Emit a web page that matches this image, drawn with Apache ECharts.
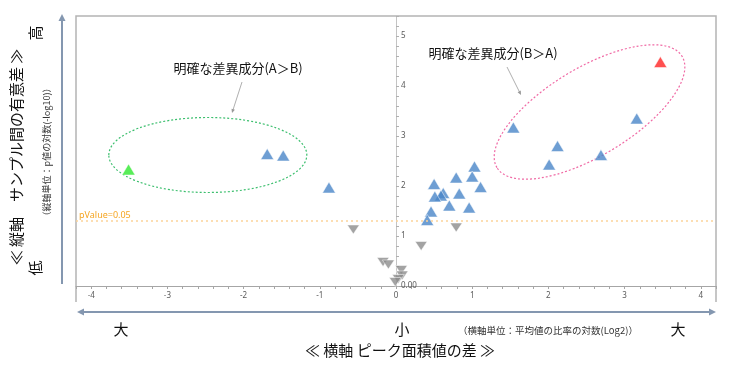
<!DOCTYPE html>
<html><head><meta charset="utf-8">
<script src="https://cdn.jsdelivr.net/npm/echarts@6/dist/echarts.min.js"></script>
<style>html,body{margin:0;padding:0;background:#fff}#c{width:733px;height:373px}</style>
</head><body><div id="c"></div>
<script>
// ---- data (x: log2 ratio, y: -log10 p) ----
const blueUp = [[-1.69,2.64],[-1.48,2.61],[-0.88,1.97],[0.50,2.04],[0.79,2.17],[1.03,2.39],[1.00,2.19],[1.11,1.98],[0.83,1.85],[0.62,1.86],[0.59,1.81],[0.51,1.79],[0.70,1.61],[0.96,1.57],[0.46,1.49],[0.41,1.32],[1.54,3.17],[2.12,2.80],[2.01,2.43],[2.69,2.62],[3.16,3.35]];
const redUp = [[3.47,4.48]];
const greenUp = [[-3.51,2.33]];
const grayDown = [[-0.56,1.13],[0.79,1.17],[0.33,0.80],[-0.17,0.48],[-0.10,0.43],[0.07,0.32],[0.08,0.21],[0.03,0.14],[-0.01,0.08]];
const pThreshold = 1.301;            // -log10(0.05)
const pLabel = 'pValue=0.05';
const xRange = [-4.2, 4.2];
const yRange = [0, 5.4];
const tickStep = 0.2;
const zeroLabel = '0.00';
const yTitle = '≪ 縦軸　サンプル間の有意差 ≫';
const ySub = '（縦軸単位：p値の対数(-log10)）';
const xTitle = '≪ 横軸 ピーク面積値の差 ≫';
const xSub = '（横軸単位：平均値の比率の対数(Log2)）';
const noteAB = '明確な差異成分(A＞B)';
const noteBA = '明確な差異成分(B＞A)';
// annotation ellipses in data units
const ellAB = {cx:-2.47, cy:2.62};
const ellBA = {cx:2.54, cy:3.48};

const chart = echarts.init(document.getElementById('c'));
const isInt = v => Math.abs(v - Math.round(v)) < 1e-6;
const tickFont = 'Noto Sans';
const cjk = '"Noto Sans CJK JP"';
const axisGray = '#a6a6a6';
const gridLeft = 76, gridRight = 17, gridW = 733 - gridLeft - gridRight;
// y axis drawn at x = 0 of the x scale
const yAxisOffset = -gridW * (0 - xRange[0]) / (xRange[1] - xRange[0]);

const upSym = 'triangle';
chart.setOption({
  animation:false,
  grid:{left:gridLeft, right:gridRight, top:16, bottom:87, containLabel:false},
  xAxis:{type:'value', min:xRange[0], max:xRange[1], interval:tickStep,
    axisLine:{onZero:false, lineStyle:{color:axisGray, width:1}},
    axisTick:{show:true, length:3, lineStyle:{color:axisGray}},
    splitLine:{show:false},
    axisLabel:{interval:0, fontSize:8, color:'#595959', fontFamily:tickFont, margin:6,
      formatter:v => isInt(v) && Math.abs(v) < 4.1 ? String(Math.round(v)) : ''}},
  yAxis:{type:'value', position:'left', offset:yAxisOffset, min:yRange[0], max:yRange[1], interval:tickStep,
    axisLine:{show:true, onZero:false, lineStyle:{color:'#c4c4c4', width:1}},
    axisTick:{show:true, inside:true, length:3, lineStyle:{color:'#b0b0b0'}},
    splitLine:{show:false},
    axisLabel:{inside:true, interval:0, fontSize:8, color:'#595959', fontFamily:tickFont, margin:5,
      formatter:v => Math.abs(v) < 1e-6 ? zeroLabel : (isInt(v) && v < 5.1 ? String(Math.round(v)) : '')}},
  series:[
    {type:'scatter', name:'down', data:grayDown, symbol:'triangle', symbolRotate:180, symbolSize:[12,9],
      itemStyle:{color:'#8c8c8c', borderColor:'#fff', borderWidth:0.6},
      markLine:{symbol:'none', silent:true, animation:false,
        lineStyle:{type:[2,3], color:'#fbd49b', width:1.5},
        label:{show:true, position:'insideStartTop', formatter:pLabel, color:'#f5a623', fontSize:9, fontFamily:tickFont, distance:[3,1]},
        data:[{yAxis:pThreshold}]}},
    {type:'scatter', name:'blue', data:blueUp, symbol:upSym, symbolSize:[13,11],
      itemStyle:{color:'#4a86c8', borderColor:'#fff', borderWidth:0.6}},
    {type:'scatter', name:'red', data:redUp, symbol:upSym, symbolSize:[13,11],
      itemStyle:{color:'#ff2424', borderColor:'#fff', borderWidth:0.6}},
    {type:'scatter', name:'green', data:greenUp, symbol:upSym, symbolSize:[13,11],
      itemStyle:{color:'#2ee82e', borderColor:'#fff', borderWidth:0.6}}
  ]
});

const pAB = chart.convertToPixel({gridIndex:0}, [ellAB.cx, ellAB.cy]);
const pBA = chart.convertToPixel({gridIndex:0}, [ellBA.cx, ellBA.cy]);
const slate = '#8497b0';
const noteGray = '#9a9a9a';
const ink = '#111';
function arrowHead(x, y, ang, len, wid, color){
  const bx = x - Math.cos(ang)*len, by = y - Math.sin(ang)*len;
  const nx = -Math.sin(ang)*wid, ny = Math.cos(ang)*wid;
  return {type:'polygon', shape:{points:[[x,y],[bx+nx,by+ny],[bx-nx,by-ny]]}, style:{fill:color}, silent:true};
}
function noteArrow(x1,y1,x2,y2){
  const ang = Math.atan2(y2-y1, x2-x1);
  return [
    {type:'line', shape:{x1,y1,x2:x2-Math.cos(ang)*3,y2:y2-Math.sin(ang)*3}, style:{stroke:noteGray, lineWidth:0.8}},
    arrowHead(x2,y2,ang,4,1.8,noteGray)
  ];
}
const g = [
  {type:'polyline', shape:{points:[[76,302],[76,16],[716,16],[716,302]]}, style:{stroke:'#b4b4b4', lineWidth:1.5, fill:null}, silent:true},
  {type:'line', shape:{x1:62,y1:284,x2:62,y2:20}, style:{stroke:slate, lineWidth:2}},
  arrowHead(62,14,-Math.PI/2,7,3.5,slate),
  {type:'line', shape:{x1:82,y1:312,x2:711,y2:312}, style:{stroke:slate, lineWidth:2}},
  arrowHead(77,312,Math.PI,7,3.5,slate),
  arrowHead(716,312,0,7,3.5,slate),
  {type:'ellipse', shape:{cx:pAB[0], cy:pAB[1], rx:99, ry:37.5}, style:{fill:null, stroke:'#3cbf6e', lineWidth:1.2, lineDash:[2,2]}, silent:true},
  {type:'ellipse', x:pBA[0], y:pBA[1], rotation:31*Math.PI/180, shape:{cx:0, cy:0, rx:108, ry:44}, style:{fill:null, stroke:'#f06aa5', lineWidth:1.2, lineDash:[2,2]}, silent:true},
  {type:'text', x:238, y:68, style:{text:noteAB, font:'13px '+cjk, fill:ink, align:'center', verticalAlign:'middle'}},
  {type:'text', x:493, y:53, style:{text:noteBA, font:'13px '+cjk, fill:ink, align:'center', verticalAlign:'middle'}},
  ...noteArrow(242,82,232,113),
  ...noteArrow(507,67,521,95),
  {type:'text', x:16, y:157, rotation:Math.PI/2, style:{text:yTitle, font:'15px '+cjk, fill:ink, align:'center', verticalAlign:'middle'}},
  {type:'text', x:47, y:152, rotation:Math.PI/2, style:{text:ySub, font:'9px '+cjk, fill:'#333', align:'center', verticalAlign:'middle'}},
  {type:'text', x:35, y:33, rotation:Math.PI/2, style:{text:'高', font:'15px '+cjk, fill:ink, align:'center', verticalAlign:'middle'}},
  {type:'text', x:35, y:268, rotation:Math.PI/2, style:{text:'低', font:'15px '+cjk, fill:ink, align:'center', verticalAlign:'middle'}},
  {type:'text', x:121, y:329, style:{text:'大', font:'15px '+cjk, fill:ink, align:'center', verticalAlign:'middle'}},
  {type:'text', x:402, y:329, style:{text:'小', font:'15px '+cjk, fill:ink, align:'center', verticalAlign:'middle'}},
  {type:'text', x:678, y:329, style:{text:'大', font:'15px '+cjk, fill:ink, align:'center', verticalAlign:'middle'}},
  {type:'text', x:548, y:330, style:{text:xSub, font:'9.5px '+cjk, fill:'#333', align:'center', verticalAlign:'middle'}},
  {type:'text', x:400, y:350, style:{text:xTitle, font:'15px '+cjk, fill:ink, align:'center', verticalAlign:'middle'}}
];
chart.setOption({graphic:{elements:g}});
</script>
</body></html>
